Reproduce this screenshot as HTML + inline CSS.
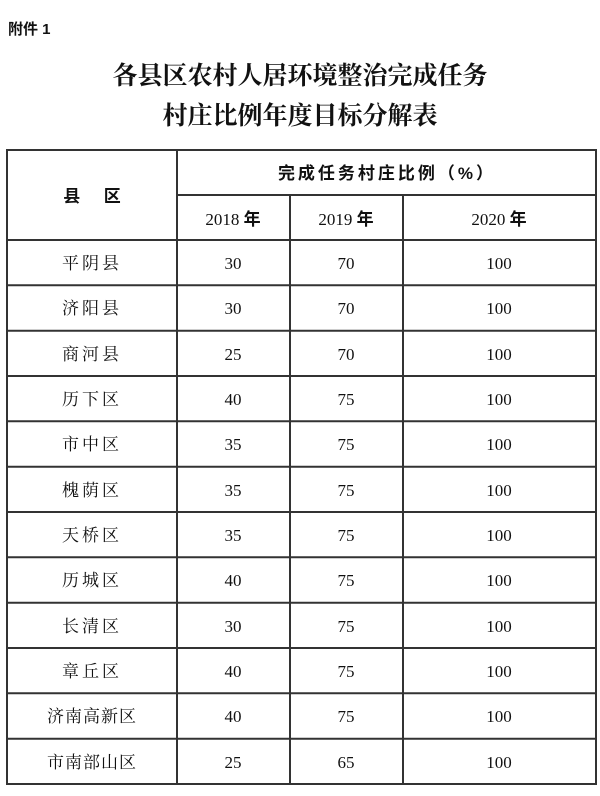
<!DOCTYPE html>
<html><head><meta charset="utf-8"><style>
html,body{margin:0;padding:0;background:#fff;}
body{width:600px;height:791px;overflow:hidden;position:relative;}
svg text{font-family:"Liberation Serif","Noto Serif CJK SC",serif;fill:#111;}
.b{font-family:"Liberation Sans","Noto Sans CJK SC",sans-serif;font-weight:bold;}
</style></head><body>
<svg width="600" height="791" xmlns="http://www.w3.org/2000/svg">
<text x="8" y="34" font-size="15" class="b">附件 1</text>
<text x="300" y="84" font-size="25" text-anchor="middle" style="font-weight:bold">各县区农村人居环境整治完成任务</text>
<text x="300" y="124" font-size="25" text-anchor="middle" style="font-weight:bold">村庄比例年度目标分解表</text>
<g stroke="#333" stroke-width="2" fill="none">
<rect x="7" y="150" width="589" height="634"/>
<line x1="177" y1="150" x2="177" y2="784"/>
<line x1="290" y1="195" x2="290" y2="784"/>
<line x1="403" y1="195" x2="403" y2="784"/>
<line x1="177" y1="195" x2="596" y2="195"/>
<line x1="7" y1="240" x2="596" y2="240"/>
<line x1="7" y1="285.3" x2="596" y2="285.3"/>
<line x1="7" y1="330.7" x2="596" y2="330.7"/>
<line x1="7" y1="376" x2="596" y2="376"/>
<line x1="7" y1="421.3" x2="596" y2="421.3"/>
<line x1="7" y1="466.7" x2="596" y2="466.7"/>
<line x1="7" y1="512" x2="596" y2="512"/>
<line x1="7" y1="557.3" x2="596" y2="557.3"/>
<line x1="7" y1="602.7" x2="596" y2="602.7"/>
<line x1="7" y1="648" x2="596" y2="648"/>
<line x1="7" y1="693.3" x2="596" y2="693.3"/>
<line x1="7" y1="738.7" x2="596" y2="738.7"/>
</g>
<text x="92" y="202" font-size="17" text-anchor="middle" class="b" xml:space="preserve">县     区</text>
<text x="387" y="179" font-size="17" text-anchor="middle" class="b" letter-spacing="3">完成任务村庄比例（%）</text>
<text x="233" y="225" font-size="17" text-anchor="middle">2018 <tspan class="b">年</tspan></text>
<text x="346" y="225" font-size="17" text-anchor="middle">2019 <tspan class="b">年</tspan></text>
<text x="499" y="225" font-size="17" text-anchor="middle">2020 <tspan class="b">年</tspan></text>
<g font-size="17" text-anchor="middle">
<text x="92" y="269" letter-spacing="3">平阴县</text><text x="233" y="269">30</text><text x="346" y="269">70</text><text x="499" y="269">100</text>
<text x="92" y="314" letter-spacing="3">济阳县</text><text x="233" y="314">30</text><text x="346" y="314">70</text><text x="499" y="314">100</text>
<text x="92" y="360" letter-spacing="3">商河县</text><text x="233" y="360">25</text><text x="346" y="360">70</text><text x="499" y="360">100</text>
<text x="92" y="405" letter-spacing="3">历下区</text><text x="233" y="405">40</text><text x="346" y="405">75</text><text x="499" y="405">100</text>
<text x="92" y="450" letter-spacing="3">市中区</text><text x="233" y="450">35</text><text x="346" y="450">75</text><text x="499" y="450">100</text>
<text x="92" y="496" letter-spacing="3">槐荫区</text><text x="233" y="496">35</text><text x="346" y="496">75</text><text x="499" y="496">100</text>
<text x="92" y="541" letter-spacing="3">天桥区</text><text x="233" y="541">35</text><text x="346" y="541">75</text><text x="499" y="541">100</text>
<text x="92" y="586" letter-spacing="3">历城区</text><text x="233" y="586">40</text><text x="346" y="586">75</text><text x="499" y="586">100</text>
<text x="92" y="632" letter-spacing="3">长清区</text><text x="233" y="632">30</text><text x="346" y="632">75</text><text x="499" y="632">100</text>
<text x="92" y="677" letter-spacing="3">章丘区</text><text x="233" y="677">40</text><text x="346" y="677">75</text><text x="499" y="677">100</text>
<text x="92" y="722" letter-spacing="1">济南高新区</text><text x="233" y="722">40</text><text x="346" y="722">75</text><text x="499" y="722">100</text>
<text x="92" y="768" letter-spacing="1">市南部山区</text><text x="233" y="768">25</text><text x="346" y="768">65</text><text x="499" y="768">100</text>
</g>
</svg>
</body></html>
